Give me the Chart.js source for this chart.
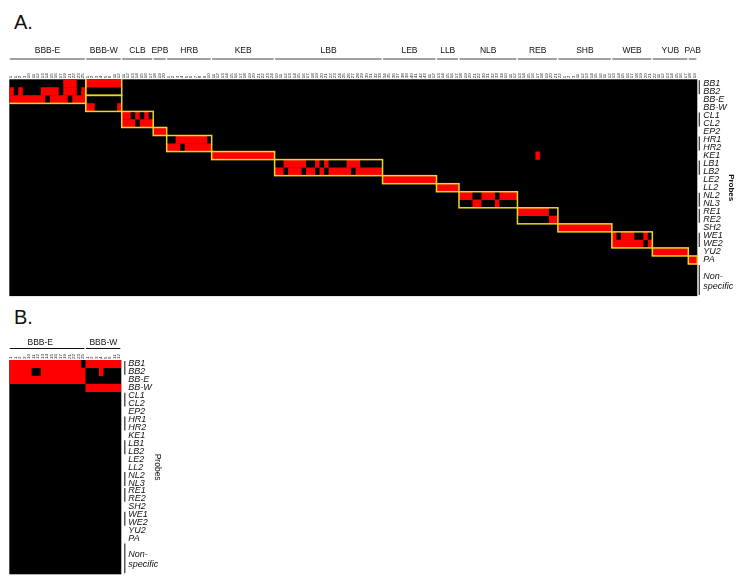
<!DOCTYPE html>
<html>
<head>
<meta charset="utf-8">
<style>
  html, body { margin: 0; padding: 0; background: #fff; }
  body { width: 745px; height: 585px; position: relative; overflow: hidden; font-family: "Liberation Sans", sans-serif; }
  canvas { position: absolute; }
  .panel-title { position: absolute; left: 14px; font-size: 20px; line-height: 20px; color: #111; }
</style>
</head>
<body>
<div class="panel-title" style="top:12px">A.</div>
<div class="panel-title" style="top:307px">B.</div>
<canvas id="chartA" style="left:0;top:0"></canvas>
<canvas id="chartB" style="left:0;top:300px"></canvas>
<script src="https://cdn.jsdelivr.net/npm/chart.js@4/dist/chart.umd.min.js"></script>
<script>
// the last label is two lines so "specific" sits a little lower than its row centre
const rowLabels = ['BB1', 'BB2', 'BB-E', 'BB-W', 'CL1', 'CL2', 'EP2', 'HR1', 'HR2', 'KE1', 'LB1', 'LB2', 'LE2', 'LL2',
    'NL2', 'NL3', 'RE1', 'RE2', 'SH2', 'WE1', 'WE2', 'YU2', 'PA', '', 'Non-', '', ['specific', '']];

// strain groups: name and first/last column
const groupNames = ['BBB-E', 'BBB-W', 'CLB', 'EPB', 'HRB', 'KEB', 'LBB', 'LEB', 'LLB', 'NLB', 'REB', 'SHB', 'WEB', 'YUB', 'PAB'];
const groupEdges = [0, 17, 25, 32, 35, 45, 59, 83, 95, 100, 113, 122, 134, 143, 151, 153];

// column tick labels are barely legible in the picture, these are best guesses
const bbbLabels = ['1', '1', '2', '3', '10', '11', '12', '13', '14', '15', '16', '17', '19', '21', '22', '23', '25',
    '1', '2', '3', '4', '5', '6', '11', '12'];
const otherLabels = ['11', '12', '13', '14', '15', '16', '17', '18', '19', '20', '1', '2', '3', '4', '5', '6', '7', '8', '9', '10',
    '11', '12', '13', '14', '15', '16', '17', '18', '19', '20', '21', '22', '23', '24', '10', '11', '12', '13', '14', '15', '16', '17',
    '18', '19', '20', '21', '22', '23', '24', '25', '26', '27', '28', '29', '30', '31', '32', '33', '34', '35', '36', '37', '38', '39', '40', '41', '42', '43',
    '11', '12', '13', '14', '15', '16', '17', '18', '19', '20', '21', '22', '30', '31', '32', '33', '34', '10', '11', '12', '13', '14', '15', '16', '17', '18', '19', '20', '21', '22',
    '1', '2', '3', '11', '12', '13', '14', '15', '16', '11', '12', '13', '14', '15', '16', '17', '18', '19', '20', '21', '22',
    '11', '12', '13', '14', '15', '16', '17', '18', '19', '11', '12', '13', '14', '15', '16', '17', '18', '1', '2'].slice(0, 128);
const columnLabelsA = bbbLabels.concat(otherLabels);
const columnLabelsB = bbbLabels;

// red runs per probe row, [first column, end column]
const runsA = [
    [[12, 15], [17, 25]],
    [[0, 1], [2, 3], [7, 11], [12, 15], [16, 17]],
    [[0, 8], [9, 13], [14, 17]],
    [[17, 19], [24, 25]],
    [[25, 27], [28, 29], [30, 31]],
    [[25, 28], [29, 32]],
    [[32, 35]],
    [[37, 44]],
    [[35, 38], [39, 45]],
    [[45, 59], [117, 118]],
    [[61, 66], [68, 69], [70, 71], [75, 78]],
    [[59, 61], [62, 65], [66, 68], [69, 70], [71, 76], [77, 83]],
    [[83, 95]],
    [[95, 100]],
    [[100, 103], [105, 108], [109, 113]],
    [[103, 105], [108, 109]],
    [[113, 120]],
    [[120, 122]],
    [[122, 134]],
    [[134, 135], [136, 139], [141, 142]],
    [[134, 141], [142, 143]],
    [[143, 151]],
    [[151, 153]],
    [], [], [], []
];
const runsB = [
    [[0, 16], [17, 25]],
    [[0, 5], [7, 17], [20, 21]],
    [[0, 17]],
    [[17, 25]],
    [], [], [], [], [], [], [], [], [], [], [], [], [], [], [], [], [], [], [], [], [], [], []
];

// yellow frames, [first column, end column, first row, end row]
// the first two start outside the plot because the reference shows no top or left edge on them
const framesA = [[-1, 17, -1, 3], [17, 25, -1, 2], [17, 25, 2, 4], [25, 32, 4, 6], [32, 35, 6, 7], [35, 45, 7, 9],
    [45, 59, 9, 10], [59, 83, 10, 12], [83, 95, 12, 13], [95, 100, 13, 14], [100, 113, 14, 16], [113, 122, 16, 18],
    [122, 134, 18, 19], [134, 143, 19, 21], [143, 151, 21, 22], [151, 153, 22, 23]];

// bars next to the probe names, [first row, end row]
const bracketRows = [[0, 2], [4, 6], [7, 9], [10, 12], [14, 16], [16, 18], [19, 21], [23, 27]];

function buildDatasets(runs) {
    const slots = Math.max(...runs.map(r => r.length));
    const datasets = [];
    for (let s = 0; s < slots; s++) {
        datasets.push({
            data: runs.map(r => r[s] || null),
            backgroundColor: '#ff0000',
            borderWidth: 0,
            barPercentage: 1.04,
            categoryPercentage: 1,
            grouped: false
        });
    }
    return datasets;
}

// black background, frames, group rules and probe brackets
const heatmapPlugin = {
    id: 'heatmapExtras',
    beforeDatasetsDraw(chart) {
        const { ctx, chartArea: a } = chart;
        ctx.save();
        ctx.fillStyle = '#000';
        ctx.fillRect(a.left, a.top, a.right - a.left, a.bottom - a.top);
        ctx.restore();
    },
    afterDatasetsDraw(chart, args, opts) {
        const { ctx, chartArea: a, scales: { x, y } } = chart;
        const rowH = (a.bottom - a.top) / rowLabels.length;
        const rowEdge = r => y.getPixelForValue(r) - rowH / 2;
        ctx.save();

        ctx.save();
        ctx.beginPath();
        ctx.rect(a.left, a.top, chart.width - a.left, a.bottom - a.top);
        ctx.clip();
        ctx.strokeStyle = '#ecd81c';
        ctx.lineWidth = 1.5;
        opts.frames.forEach(f => {
            ctx.strokeRect(x.getPixelForValue(f[0]), rowEdge(f[2]),
                x.getPixelForValue(f[1]) - x.getPixelForValue(f[0]), rowEdge(f[3]) - rowEdge(f[2]));
        });
        ctx.restore();

        ctx.strokeStyle = '#333';
        ctx.lineWidth = 1.2;
        bracketRows.forEach(b => {
            ctx.beginPath();
            ctx.moveTo(a.right + opts.bracketGap, rowEdge(b[0]) + 1);
            ctx.lineTo(a.right + opts.bracketGap, rowEdge(b[1]) - 1);
            ctx.stroke();
        });

        ctx.font = '8.5px "Liberation Sans"';
        ctx.textAlign = 'center';
        ctx.textBaseline = 'middle';
        opts.groups.forEach((name, i) => {
            const x0 = x.getPixelForValue(groupEdges[i]);
            const x1 = x.getPixelForValue(groupEdges[i + 1]);
            ctx.strokeStyle = opts.ruleColor;
            ctx.lineWidth = opts.ruleWidth;
            ctx.beginPath();
            ctx.moveTo(x0 + 0.5, opts.ruleY);
            ctx.lineTo(x1 - 1, opts.ruleY);
            ctx.stroke();
            ctx.fillStyle = '#111';
            const mid = opts.groupCentres ? x.getPixelForValue(opts.groupCentres[i]) : (x0 + x1) / 2;
            ctx.fillText(name, mid, opts.labelY);
        });
        ctx.restore();
    }
};

function drawPanel(id, size, panel) {
    const canvas = document.getElementById(id);
    canvas.width = size.width;
    canvas.height = size.height;
    canvas.style.width = size.width + 'px';
    canvas.style.height = size.height + 'px';
    new Chart(canvas, {
        type: 'bar',
        data: { labels: rowLabels, datasets: buildDatasets(panel.runs) },
        plugins: [heatmapPlugin],
        options: {
            indexAxis: 'y',
            responsive: false,
            animation: false,
            layout: { padding: { left: 9.3, right: panel.padRight, top: 0, bottom: panel.padBottom } },
            plugins: {
                legend: { display: false },
                tooltip: { enabled: false },
                title: { display: false },
                heatmapExtras: panel.extras
            },
            scales: {
                x: {
                    type: 'linear',
                    position: 'top',
                    min: 0,
                    max: panel.columns.length,
                    grid: { display: false, drawTicks: false, tickLength: 0 },
                    border: { display: false },
                    afterBuildTicks: axis => { axis.ticks = panel.columns.map((c, i) => ({ value: i + 0.5 })); },
                    afterFit: axis => {
                        axis.height = panel.plotTop;
                        axis.paddingLeft = 0;
                        axis.paddingRight = 0;
                    },
                    ticks: {
                        autoSkip: false,
                        minRotation: 90,
                        maxRotation: 90,
                        padding: 1,
                        labelOffset: 5,
                        color: '#222',
                        font: { family: 'Liberation Sans', size: 4.4 },
                        callback: (value, i) => panel.columns[i]
                    }
                },
                y: {
                    position: 'right',
                    grid: { display: false, drawTicks: false },
                    border: { display: false },
                    afterFit: axis => {
                        axis.width = panel.axisWidth;
                        axis.paddingTop = 0;
                        axis.paddingBottom = 0;
                    },
                    title: {
                        display: true,
                        text: 'Probes',
                        color: '#111',
                        padding: 0,
                        font: { family: 'Liberation Sans', size: panel.titleSize, weight: panel.titleWeight }
                    },
                    ticks: {
                        autoSkip: false,
                        padding: panel.labelGap,
                        color: '#111',
                        font: { family: 'Liberation Sans', size: 9, style: 'italic' }
                    }
                }
            }
        }
    });
}

drawPanel('chartA', { width: 745, height: 300 }, {
    runs: runsA,
    columns: columnLabelsA,
    plotTop: 79.3,
    padBottom: 3.9,
    padRight: 9,
    axisWidth: 38.7,
    labelGap: 6,
    titleSize: 8,
    titleWeight: 'bold',
    extras: { frames: framesA, groups: groupNames, bracketGap: 2, ruleY: 59, ruleWidth: 1, ruleColor: '#444', labelY: 51 }
});

drawPanel('chartB', { width: 180, height: 285 }, {
    runs: runsB,
    columns: columnLabelsB,
    plotTop: 60,
    padBottom: 10.7,
    padRight: 18,
    axisWidth: 40.7,
    labelGap: 7,
    titleSize: 8.5,
    titleWeight: 'normal',
    extras: { frames: [], groups: groupNames.slice(0, 2), groupCentres: [6.9, 21], bracketGap: 3.5, ruleY: 48.5, ruleWidth: 1.2, ruleColor: '#111', labelY: 43 }
});
</script>
</body>
</html>
